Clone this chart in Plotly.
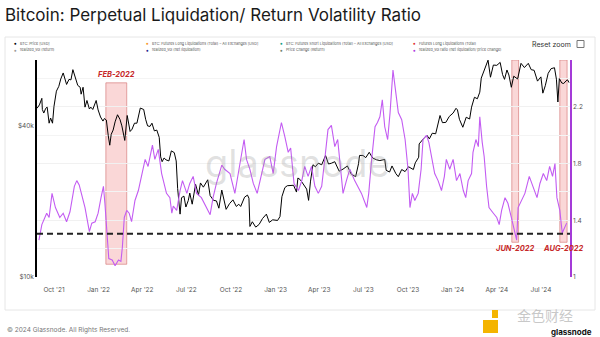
import plotly.graph_objects as go

# ---------------- DATA ----------------
btc_dates = [
    "2021-08-27","2021-09-01","2021-09-06","2021-09-07","2021-09-10","2021-09-14","2021-09-17","2021-09-21",
    "2021-09-24","2021-09-28","2021-10-01","2021-10-06","2021-10-11","2021-10-15","2021-10-20","2021-10-24",
    "2021-10-27","2021-11-01","2021-11-05","2021-11-09","2021-11-12","2021-11-16","2021-11-19","2021-11-24",
    "2021-11-26","2021-11-30","2021-12-04","2021-12-08","2021-12-13","2021-12-16","2021-12-20","2021-12-27",
    "2021-12-31","2022-01-05","2022-01-10","2022-01-13","2022-01-17","2022-01-21","2022-01-24","2022-01-27",
    "2022-01-31","2022-02-04","2022-02-09","2022-02-14","2022-02-18","2022-02-24","2022-03-01","2022-03-07",
    "2022-03-11","2022-03-16","2022-03-21","2022-03-28","2022-04-04","2022-04-08","2022-04-12","2022-04-17",
    "2022-04-21","2022-04-26","2022-05-01","2022-05-06","2022-05-09","2022-05-12","2022-05-16","2022-05-20",
    "2022-05-26","2022-05-31","2022-06-06","2022-06-10","2022-06-13","2022-06-18","2022-06-21","2022-06-26",
    "2022-06-30","2022-07-05","2022-07-08","2022-07-13","2022-07-20","2022-07-26","2022-07-30","2022-08-05",
    "2022-08-14","2022-08-19","2022-08-26","2022-09-01","2022-09-06","2022-09-12","2022-09-18","2022-09-21",
    "2022-09-28","2022-10-05","2022-10-12","2022-10-17","2022-10-21","2022-10-29","2022-11-04","2022-11-07",
    "2022-11-09","2022-11-14","2022-11-21","2022-11-28","2022-12-05","2022-12-13","2022-12-19","2022-12-26",
    "2023-01-05","2023-01-10","2023-01-14","2023-01-20","2023-01-25","2023-01-31","2023-02-07","2023-02-13",
    "2023-02-16","2023-02-21","2023-02-27","2023-03-06","2023-03-10","2023-03-14","2023-03-19","2023-03-24",
    "2023-03-30","2023-04-06","2023-04-14","2023-04-20","2023-04-26","2023-05-03","2023-05-12","2023-05-20",
    "2023-05-29","2023-06-06","2023-06-15","2023-06-21","2023-06-23","2023-06-30","2023-07-06","2023-07-13",
    "2023-07-20","2023-07-28","2023-08-04","2023-08-14","2023-08-17","2023-08-24","2023-08-29","2023-09-06",
    "2023-09-11","2023-09-18","2023-09-25","2023-10-02","2023-10-12","2023-10-16","2023-10-23","2023-10-24",
    "2023-11-01","2023-11-09","2023-11-14","2023-11-20","2023-11-27","2023-12-04","2023-12-06","2023-12-11",
    "2023-12-18","2023-12-25","2024-01-02","2024-01-08","2024-01-11","2024-01-15","2024-01-22","2024-01-29",
    "2024-02-05","2024-02-09","2024-02-15","2024-02-21","2024-02-26","2024-02-29","2024-03-05","2024-03-08",
    "2024-03-14","2024-03-19","2024-03-25","2024-04-01","2024-04-08","2024-04-13","2024-04-17","2024-04-22",
    "2024-04-26","2024-05-01","2024-05-06","2024-05-14","2024-05-21","2024-05-28","2024-06-05","2024-06-11",
    "2024-06-17","2024-06-24","2024-07-01","2024-07-05","2024-07-10","2024-07-16","2024-07-22","2024-07-29",
    "2024-08-02","2024-08-05","2024-08-08","2024-08-13","2024-08-17","2024-08-22","2024-08-25","2024-08-28",
]
btc_price = [
    47000,48500,51500,46500,45000,47000,47500,41000,
    43000,41000,47800,55000,57500,61500,65000,60800,
    58500,61300,61000,67000,64000,60000,58000,57000,
    53500,57000,47500,50500,46700,47500,46500,50500,
    46300,43400,41800,42800,42200,36500,33500,37000,
    38500,41500,44300,42500,40000,35000,44000,38000,
    38800,41000,41000,47100,46500,42500,40000,39800,
    41000,38200,38500,36000,30100,28800,29800,29300,
    29000,31800,31300,29000,22500,17800,20700,21000,
    19000,20200,21600,19500,23400,21200,23700,22800,
    24400,21100,20200,20100,18800,22200,19500,18600,
    19600,20300,19100,19500,19100,20800,21200,20600,
    15900,16600,15800,16200,17100,17800,16500,16900,
    16800,17400,20900,22700,23100,23100,23200,21800,
    24800,24400,23500,22400,20200,24100,28000,27500,
    28400,28000,30500,28200,28400,28800,26400,26900,
    27700,25700,25100,28300,30500,30500,29900,31400,
    29800,29300,29100,29400,26600,26200,27700,25800,
    25100,26800,26300,27500,26800,28500,30000,33900,
    35400,36700,35500,37400,37200,41900,44000,41200,
    41300,43600,45000,47000,46300,42500,39500,43300,
    42600,47500,52000,51300,54500,62000,66000,68200,
    73100,62500,69900,69700,71600,64000,61300,66800,
    63800,57000,63100,61500,71000,68300,71000,67000,
    66600,60300,62700,54000,57800,64800,67600,68200,
    61400,49800,61700,59300,59000,60500,61000,59500,
]

ratio_dates = [
    "2021-08-31","2021-09-06","2021-09-16","2021-09-21","2021-09-27","2021-10-04","2021-10-13","2021-10-20",
    "2021-10-27","2021-11-03","2021-11-12","2021-11-17","2021-11-22","2021-11-27","2021-12-04","2021-12-13",
    "2021-12-18","2021-12-25","2021-12-31","2022-01-06","2022-01-11","2022-01-14","2022-01-18","2022-01-22",
    "2022-01-29","2022-02-04","2022-02-11","2022-02-16","2022-02-19","2022-02-23","2022-02-28","2022-03-05",
    "2022-03-10","2022-03-17","2022-03-24","2022-03-31","2022-04-07","2022-04-13","2022-04-22","2022-04-27",
    "2022-05-04","2022-05-11","2022-05-21","2022-05-28","2022-06-01","2022-06-04","2022-06-11","2022-06-18",
    "2022-06-23","2022-07-02","2022-07-08","2022-07-15","2022-07-22","2022-08-01","2022-08-12","2022-08-19",
    "2022-08-25","2022-09-01","2022-09-12","2022-09-18","2022-09-29","2022-10-09","2022-10-16","2022-10-23",
    "2022-10-28","2022-11-02","2022-11-09","2022-11-16","2022-11-24","2022-11-30","2022-12-10","2022-12-20",
    "2022-12-27","2023-01-03","2023-01-13","2023-01-20","2023-01-27","2023-02-01","2023-02-08","2023-02-17",
    "2023-02-24","2023-03-02","2023-03-09","2023-03-16","2023-03-23","2023-03-30","2023-04-06","2023-04-13",
    "2023-04-19","2023-04-26","2023-05-03","2023-05-09","2023-05-14","2023-05-20","2023-05-27","2023-06-03",
    "2023-06-13","2023-06-20","2023-06-27","2023-07-08","2023-07-12","2023-07-18","2023-07-25","2023-07-30",
    "2023-08-04","2023-08-09","2023-08-14","2023-08-20","2023-08-25","2023-08-31","2023-09-05","2023-09-11",
    "2023-09-18","2023-09-25","2023-10-01","2023-10-05","2023-10-10","2023-10-15","2023-10-22","2023-10-28",
    "2023-11-01","2023-11-08","2023-11-13","2023-11-19","2023-11-25","2023-12-02","2023-12-09","2023-12-15",
    "2023-12-19","2023-12-26","2024-01-02","2024-01-09","2024-01-16","2024-01-23","2024-01-28","2024-02-02",
    "2024-02-09","2024-02-12","2024-02-18","2024-02-23","2024-02-26","2024-03-02","2024-03-06","2024-03-11",
    "2024-03-16","2024-03-25","2024-04-01","2024-04-06","2024-04-11","2024-04-18","2024-04-24","2024-05-01",
    "2024-05-08","2024-05-12","2024-05-15","2024-05-22","2024-05-29","2024-06-07","2024-06-15","2024-06-23",
    "2024-06-29","2024-07-06","2024-07-13","2024-07-19","2024-07-25","2024-07-30","2024-08-03","2024-08-09",
    "2024-08-14","2024-08-19","2024-08-23",
]
ratio_vals = [
    1.26,1.37,1.45,1.42,1.59,1.49,1.42,1.45,
    1.39,1.46,1.64,1.68,1.65,1.59,1.49,1.32,
    1.38,1.39,1.45,1.56,1.64,1.52,1.31,1.13,
    1.12,1.08,1.12,1.11,1.21,1.42,1.47,1.45,
    1.39,1.54,1.61,1.71,1.83,1.78,1.93,1.83,
    1.90,1.73,1.59,1.56,1.45,1.50,1.47,1.61,
    1.68,1.59,1.66,1.71,1.59,1.56,1.49,1.44,
    1.56,1.66,1.79,1.76,1.73,1.59,1.73,1.88,
    1.97,1.83,1.76,1.66,1.59,1.68,1.83,1.85,
    1.73,1.92,2.09,1.99,1.88,1.91,1.66,1.61,
    1.68,1.78,1.71,1.78,1.64,1.59,1.64,1.85,
    2.04,2.07,1.92,1.97,1.78,1.59,1.68,1.76,
    1.68,1.64,1.59,1.49,1.59,1.83,2.06,2.09,
    2.13,2.25,2.06,1.97,2.16,2.46,2.34,2.16,
    2.11,1.97,1.76,1.49,1.59,1.54,1.59,1.76,
    1.97,2.00,1.95,1.85,1.73,1.68,1.61,1.71,
    1.83,1.76,1.83,1.68,1.73,1.61,1.56,1.68,
    1.73,1.88,1.97,1.92,2.13,1.95,1.85,1.64,
    1.49,1.45,1.42,1.37,1.47,1.56,1.52,1.42,
    1.31,1.26,1.49,1.54,1.59,1.71,1.64,1.56,
    1.66,1.73,1.68,1.78,1.71,1.80,1.56,1.47,
    1.31,1.35,1.38,
]

threshold = 1.305
highlight_starts = ["2022-01-16", "2024-05-02", "2024-08-09"]
highlight_ends = ["2022-02-28", "2024-05-16", "2024-08-24"]
highlight_labels = ["FEB-2022", "JUN-2022", "AUG-2022"]
x_range = ["2021-08-27", "2024-08-30"]
price_ticks = [10000, 40000]
price_tick_text = ["$10k", "$40k"]
ratio_ticks = [1, 1.4, 1.8, 2.2]
legend_row1 = [("BTC: Price [USD]", "#000000"),
               ("BTC: Futures Long Liquidations (Total) – All Exchanges [USD]", "#f7931a"),
               ("BTC: Futures Short Liquidations (Total) – All Exchanges [USD]", "#16a085"),
               ("Futures Long Liquidations (Total)", "#e0302b")]
legend_row2 = [("realized_vol (return)", "#9a9a9a"),
               ("realized_vol (net liquidation)", "#1f1f8f"),
               ("Price Change (Return)", "#6f7f6f"),
               ("realized_vol ratio (net liquidation/ price change)", "#b03ae0")]

# ---------------- LAYOUT GEOMETRY ----------------
W, H = 600, 337
L, R, T, B = 37, 30, 60, 60
PW, PH = W - L - R, H - T - B
FONT = "Inter, Roboto, sans-serif"
PURPLE = "#c35cf2"

def px(x):
    return (x - L) / PW

def py(y):
    return (H - B - y) / PH

fig = go.Figure()
fig.add_trace(go.Scatter(x=btc_dates, y=btc_price, mode="lines", name="BTC: Price [USD]",
                         line=dict(color="#000000", width=1), yaxis="y"))
fig.add_trace(go.Scatter(x=ratio_dates, y=ratio_vals, mode="lines",
                         name="realized_vol ratio (net liquidation/ price change)",
                         line=dict(color=PURPLE, width=1.1), yaxis="y2"))

shapes = []
shapes.append(dict(type="rect", xref="paper", yref="paper", x0=px(5), x1=px(595), y0=py(310), y1=py(37),
                   line=dict(color="#e6e6e6", width=1), fillcolor="rgba(0,0,0,0)", layer="below"))
box_bottoms = [1.09, 1.245, 1.245]
box_tops = [2.37, 2.531, 2.531]
for s, e, b0, t0 in zip(highlight_starts, highlight_ends, box_bottoms, box_tops):
    shapes.append(dict(type="rect", xref="x", yref="y2", x0=s, x1=e, y0=b0, y1=t0,
                       fillcolor="rgba(240,130,130,0.32)", line=dict(color="rgba(210,110,110,0.6)", width=1),
                       layer="below"))
shapes.append(dict(type="line", xref="paper", yref="y2", x0=0, x1=1, y0=threshold, y1=threshold,
                   line=dict(color="#222222", width=2, dash="6px,4px")))
shapes.append(dict(type="rect", xref="paper", yref="paper", x0=px(577), x1=px(584), y0=py(47.5), y1=py(40.5),
                   line=dict(color="#777777", width=1)))
shapes.append(dict(type="rect", xref="paper", yref="paper", x0=px(492), x1=px(498), y0=py(318), y1=py(310),
                   line=dict(width=0), fillcolor="#f4b400"))
shapes.append(dict(type="rect", xref="paper", yref="paper", x0=px(483), x1=px(498), y0=py(333), y1=py(320),
                   line=dict(width=0), fillcolor="#f4b400"))

annotations = []
label_dates = ["2022-02-06", "2024-05-09", "2024-08-16"]
label_y = [2.43, 1.20, 1.20]
for d, yv, t in zip(label_dates, label_y, highlight_labels):
    annotations.append(dict(x=d, y=yv, xref="x", yref="y2", text="<b><i>" + t + "</i></b>", showarrow=False,
                            font=dict(family=FONT, size=7.5, color="#c62828"), xanchor="center", yanchor="middle"))

cols = [15, 147, 281, 414]
for row, yy in ((legend_row1, 43), (legend_row2, 50)):
    for (txt, col), cx in zip(row, cols):
        annotations.append(dict(x=px(cx), y=py(yy), xref="paper", yref="paper", text="●", showarrow=False,
                                font=dict(size=4.5, color=col), xanchor="center", yanchor="middle"))
        annotations.append(dict(x=px(cx + 2.5), y=py(yy), xref="paper", yref="paper", text=txt, showarrow=False,
                                font=dict(family=FONT, size=3.7, color="#555555"), xanchor="left", yanchor="middle"))

annotations.append(dict(x=px(551), y=py(44), xref="paper", yref="paper", text="Reset zoom", showarrow=False,
                        font=dict(family=FONT, size=7, color="#333333"), xanchor="center", yanchor="middle"))
annotations.append(dict(x=px(297), y=py(163), xref="paper", yref="paper", text="glassnode", showarrow=False,
                        font=dict(family=FONT, size=38, color="rgba(150,150,150,0.28)"),
                        xanchor="center", yanchor="middle"))
annotations.append(dict(x=px(5), y=py(330), xref="paper", yref="paper",
                        text="© 2024 Glassnode. All Rights Reserved.", showarrow=False,
                        font=dict(family=FONT, size=6.5, color="#777777"), xanchor="left", yanchor="middle"))
annotations.append(dict(x=px(545), y=py(315), xref="paper", yref="paper", text="金色财经", showarrow=False,
                        font=dict(family="Noto Sans CJK SC", size=14, color="rgba(190,190,190,0.85)"),
                        xanchor="center", yanchor="middle"))
annotations.append(dict(x=px(594), y=py(331.5), xref="paper", yref="paper", text="<b>glassnode</b>",
                        showarrow=False, font=dict(family=FONT, size=8, color="#111111"),
                        xanchor="right", yanchor="middle"))

fig.update_layout(
    width=W, height=H,
    margin=dict(l=L, r=R, t=T, b=B),
    paper_bgcolor="white", plot_bgcolor="white",
    showlegend=False,
    title=dict(text="Bitcoin: Perpetual Liquidation/ Return Volatility Ratio", x=5 / W, xref="container",
               y=1 - 15 / H, yref="container", xanchor="left", yanchor="middle",
               font=dict(family=FONT, size=17, color="#1a1a1a")),
    xaxis=dict(range=x_range, type="date", tick0="2021-10-01", dtick="M3", tickformat="%b '%y",
               showgrid=False, zeroline=False, showline=False, ticks="outside", ticklen=6,
               tickcolor="rgba(0,0,0,0)", tickfont=dict(family=FONT, size=6.5, color="#555555")),
    yaxis=dict(type="log", range=[4, 4 + PH / 251], tickvals=price_ticks, ticktext=price_tick_text,
               showgrid=False, zeroline=False, showline=True, linecolor="#000000", linewidth=1.5,
               tickfont=dict(family=FONT, size=6.5, color="#555555")),
    yaxis2=dict(overlaying="y", side="right", range=[1, 2.531], tickvals=ratio_ticks,
                ticktext=["1", "1.4", "1.8", "2.2"], showgrid=True, gridcolor="#f1f1f1",
                minor=dict(dtick=0.2, tick0=1, showgrid=True, gridcolor="#f4f4f4"),
                zeroline=False, showline=True, linecolor="#a43ad8", linewidth=1.5,
                tickfont=dict(family=FONT, size=6.5, color="#555555")),
    shapes=shapes,
    annotations=annotations,
)

fig.write_html("out.html", config={"displayModeBar": False})
